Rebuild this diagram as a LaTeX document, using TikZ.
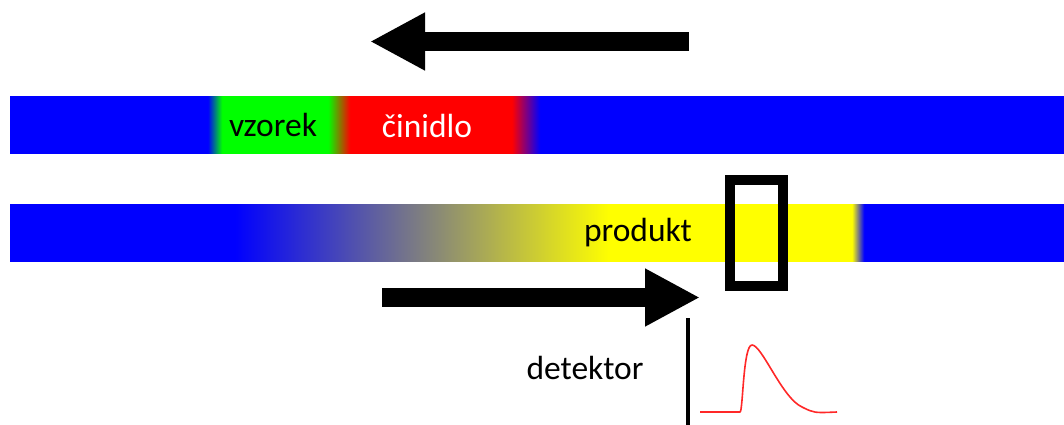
\documentclass[tikz,border=0pt]{standalone}
\usepackage{fontspec}
\setmainfont{Carlito}
\usetikzlibrary{arrows.meta}
\definecolor{zoneblue}{RGB}{0,0,255}
\definecolor{zonegreen}{RGB}{0,255,0}
\definecolor{zonered}{RGB}{255,0,0}
\definecolor{zoneyellow}{RGB}{255,255,0}
\definecolor{peakred}{RGB}{255,40,40}
% colour profiles along the channels; the bar spans 25bp..75bp of the shading
\pgfdeclarehorizontalshading{upperchannel}{100bp}{
  color(0bp)=(zoneblue); color(34.39bp)=(zoneblue);
  color(35.06bp)=(zonegreen); color(40.09bp)=(zonegreen);
  color(41.13bp)=(zonered); color(48.81bp)=(zonered);
  color(50.14bp)=(zoneblue); color(100bp)=(zoneblue)}
\pgfdeclarehorizontalshading{lowerchannel}{100bp}{
  color(0bp)=(zoneblue); color(35.67bp)=(zoneblue);
  color(53.46bp)=(zoneyellow); color(64.94bp)=(zoneyellow);
  color(65.51bp)=(zoneblue); color(100bp)=(zoneblue)}
\tikzset{
  label text/.style={font=\fontsize{33.5}{40}\selectfont, inner sep=0pt},
  flow arrow/.style={line width=19pt, -{Triangle[length=55pt,width=54pt]}},
  cell frame/.style={draw=black, line width=10pt, minimum width=53pt, minimum height=106pt, inner sep=0pt},
  detector line/.style={line width=4pt},
  signal/.style={peakred, line width=1.6pt, line join=round}
}
\begin{document}
\begin{tikzpicture}[x=1pt,y=-1pt]
\useasboundingbox (0,0) rectangle (1064,425);

% upper channel: sample and reagent zones
\shade[shading=upperchannel] (10,97) rectangle (1064,153);
% lower channel: product zone
\shade[shading=lowerchannel] (10,204) rectangle (1064,261);

% zone labels
\node[label text, text=black] (vzorek) at (273,125) {vzorek};
\node[label text, text=white] (cinidlo) at (427,126) {činidlo};
\node[label text, text=black] (produkt) at (638,233) {produkt};
\node[label text, text=black] (detektor) at (585,368) {detektor};

% detection cell
\node[cell frame] (cell) at (756.5,233) {};

% flow direction arrows
\coordinate (topstart) at (689,41.5);
\coordinate (topend) at (370,41.5);
\draw[flow arrow] (topstart) -- (topend);
\coordinate (botstart) at (382,297.5);
\coordinate (botend) at (700,297.5);
\draw[flow arrow] (botstart) -- (botend);

% detector axis and recorded peak
\coordinate (axtop) at (688,318);
\coordinate (axbot) at (688,425);
\draw[detector line] (axtop) -- (axbot);
\coordinate (sigstart) at (700,412);
\coordinate (sigrise) at (740,412);
\coordinate (sigpeak) at (752,345);
\coordinate (sigtail) at (802,407);
\coordinate (sigend) at (837,412);
\draw[signal] (sigstart) -- (sigrise)
  .. controls (743,412) and (743,345) .. (sigpeak)
  .. controls (762,345) and (782,398) .. (sigtail)
  .. controls (814,413) .. (sigend);
\end{tikzpicture}
\end{document}
